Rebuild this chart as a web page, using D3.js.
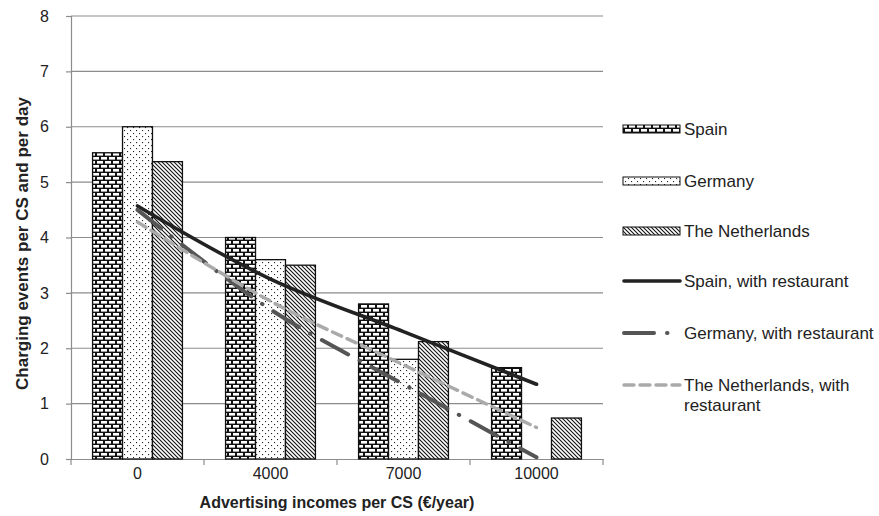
<!DOCTYPE html>
<html><head><meta charset="utf-8">
<script src="https://cdn.jsdelivr.net/npm/d3@7"></script>
<style>
body{margin:0;background:#fff;}
svg{font-family:Arial,"Liberation Sans",sans-serif;}
</style></head>
<body><svg id="chart" width="879" height="516"></svg>
<script>
const categories=['0','4000','7000','10000'];
const barSeries=['Spain','Germany','The Netherlands'];
const spainBars=[5.53,4.0,2.8,1.65];
const germanyBars=[6.0,3.6,1.8,null];
const nlBars=[5.37,3.5,2.12,0.74];
const lineSeries=['Spain, with restaurant','Germany, with restaurant','The Netherlands, with restaurant'];
const spainLine=[4.57,3.25,2.3,1.35];
const germanyLine=[4.5,2.7,1.35,0.03];
const nlLine=[4.28,2.85,1.7,0.57];
const yTicks=[0,1,2,3,4,5,6,7,8];

const W=879,H=516, L=71,R=603,T=16,B=459;
const svg=d3.select('#chart');
const defs=svg.append('defs');

// fill patterns
const pBrick=defs.append('pattern').attr('id','brick').attr('patternUnits','userSpaceOnUse').attr('width',8).attr('height',8);
pBrick.append('rect').attr('width',8).attr('height',8).attr('fill','#111');
[[1,1],[-3,5],[5,5]].forEach(([x,y])=>pBrick.append('rect').attr('x',x).attr('y',y).attr('width',6).attr('height',2.6).attr('fill','#fff'));
const pDot=defs.append('pattern').attr('id','dots').attr('patternUnits','userSpaceOnUse').attr('width',6).attr('height',6);
pDot.append('rect').attr('width',6).attr('height',6).attr('fill','#fff');
[[1,1],[4,4]].forEach(([x,y])=>pDot.append('rect').attr('x',x).attr('y',y).attr('width',1.1).attr('height',1.1).attr('fill','#222'));
const pDiag=defs.append('pattern').attr('id','diag').attr('patternUnits','userSpaceOnUse').attr('width',4).attr('height',4);
pDiag.append('rect').attr('width',4).attr('height',4).attr('fill','#fff');
pDiag.append('path').attr('d','M-1,-1L5,5M-1,3L1,5M3,-1L5,1').attr('stroke','#111').attr('stroke-width',1.1);
const fills={'Spain':'url(#brick)','Germany':'url(#dots)','The Netherlands':'url(#diag)'};

const x0=d3.scaleBand().domain(categories).range([L,R]);
const x1=d3.scaleBand().domain(barSeries).range([0,x0.bandwidth()]).paddingOuter(0.72);
const y=d3.scaleLinear().domain([0,8]).range([B,T]);

// gridlines
svg.append('g').selectAll('line').data(yTicks.filter(d=>d>0)).join('line')
  .attr('x1',L).attr('x2',R).attr('y1',d=>y(d)).attr('y2',d=>y(d))
  .attr('stroke','#8c8c8c').attr('stroke-width',1.2);

// y axis
const ya=svg.append('g').attr('transform',`translate(${L},0)`)
  .call(d3.axisLeft(y).tickValues(yTicks).tickSize(5).tickPadding(17).tickFormat(d3.format('d')));
ya.select('.domain').attr('stroke','#8c8c8c').attr('stroke-width',1.2);
ya.selectAll('.tick line').attr('stroke','#8c8c8c').attr('stroke-width',1.2);
ya.selectAll('text').attr('font-size',16).attr('fill','#222').attr('font-family','Arial,"Liberation Sans",sans-serif');

// x axis
const xa=svg.append('g').attr('transform',`translate(0,${B})`)
  .call(d3.axisBottom(x0).tickSize(0).tickPadding(9));
xa.select('.domain').attr('stroke','#8c8c8c').attr('stroke-width',1.2);
xa.selectAll('text').attr('font-size',16).attr('fill','#222').attr('font-family','Arial,"Liberation Sans",sans-serif');
svg.append('g').selectAll('line').data(categories.concat(['end'])).join('line')
  .attr('x1',(d,i)=>L+i*x0.step()).attr('x2',(d,i)=>L+i*x0.step())
  .attr('y1',B).attr('y2',B+6).attr('stroke','#8c8c8c').attr('stroke-width',1.2);

// bars
const barData=[];
categories.forEach((c,i)=>{
  [spainBars,germanyBars,nlBars].forEach((arr,k)=>{ if(arr[i]!=null) barData.push({c,s:barSeries[k],v:arr[i]}); });
});
svg.append('g').selectAll('rect').data(barData).join('rect')
  .attr('x',d=>x0(d.c)+x1(d.s)).attr('width',x1.bandwidth())
  .attr('y',d=>y(d.v)).attr('height',d=>B-y(d.v))
  .attr('fill',d=>fills[d.s]).attr('stroke','#111').attr('stroke-width',1.3);

// lines
const lineStyles=[
  {vals:spainLine,color:'#222',width:3.6,dash:null},
  {vals:germanyLine,color:'#555',width:4,dash:'30,13,0.5,13'},
  {vals:nlLine,color:'#aaa',width:3.4,dash:'10,6'}
];
const line=d3.line().x((d,i)=>x0(categories[i])+x0.bandwidth()/2).y(d=>y(d)).curve(d3.curveCatmullRom.alpha(0.5));
svg.append('g').selectAll('path').data(lineStyles).join('path')
  .attr('d',d=>line(d.vals)).attr('fill','none')
  .attr('stroke',d=>d.color).attr('stroke-width',d=>d.width)
  .attr('stroke-dasharray',d=>d.dash).attr('stroke-linecap','round');

// axis titles
svg.append('text').attr('x',(L+R)/2).attr('y',508).attr('text-anchor','middle')
  .attr('font-size',16).attr('font-weight','bold').attr('fill','#222').text('Advertising incomes  per CS (€/year)');
svg.append('text').attr('transform',`translate(28,${(T+B)/2+6}) rotate(-90)`).attr('text-anchor','middle')
  .attr('font-size',17).attr('font-weight','bold').attr('fill','#222').text('Charging events per CS and per day');

// legend
const lg=svg.append('g').attr('font-size',17).attr('fill','#222');
const legY=[129,181,231,281,333,385];
barSeries.forEach((s,i)=>{
  lg.append('rect').attr('x',623).attr('y',legY[i]-4).attr('width',57).attr('height',8)
    .attr('fill',fills[s]).attr('stroke','#111').attr('stroke-width',1);
  lg.append('text').attr('x',684).attr('y',legY[i]+6).text(s);
});
lineStyles.forEach((st,i)=>{
  const yy=legY[i+3];
  lg.append('line').attr('x1',624).attr('x2',680).attr('y1',yy).attr('y2',yy)
    .attr('stroke',st.color).attr('stroke-width',st.width).attr('stroke-dasharray',st.dash).attr('stroke-linecap','round');
  const t=lg.append('text').attr('x',684).attr('y',yy+6);
  if(i===2){ t.text('The Netherlands, with'); lg.append('text').attr('x',684).attr('y',yy+26).text('restaurant'); }
  else t.text(lineSeries[i]);
});
</script></body></html>
